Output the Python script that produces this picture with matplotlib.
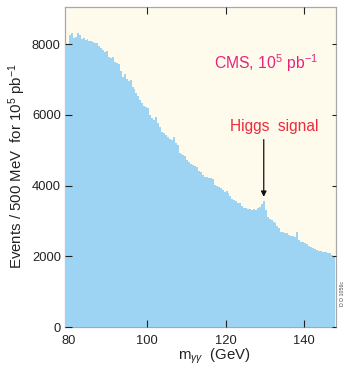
import numpy as np
import matplotlib
matplotlib.use("Agg")
import matplotlib.pyplot as plt

plt.rcParams['font.family'] = ['Liberation Sans', 'DejaVu Sans']
plt.rcParams['mathtext.fontset'] = 'custom'
plt.rcParams['mathtext.rm'] = 'Liberation Sans'
plt.rcParams['mathtext.it'] = 'Liberation Sans:italic'

# histogram: 500 MeV bins from 79 to 148 GeV
bin_start = 79.0
bin_width = 0.5
counts = [
    8020, 8010, 8250, 8310, 8180, 8200, 8320, 8250, 8150, 8170,
    8120, 8140, 8100, 8080, 8070, 8030, 8040, 7960, 7900, 7830,
    7780, 7800, 7650, 7600, 7640, 7500, 7470, 7430, 7250, 7060,
    7150, 7000, 6950, 6980, 6800, 6720, 6620, 6540, 6420, 6330,
    6260, 6230, 6180, 6000, 5920, 5850, 5930, 5780, 5650, 5520,
    5480, 5420, 5370, 5330, 5290, 5360, 5200, 5140, 4920, 4900,
    4860, 4830, 4720, 4680, 4600, 4570, 4540, 4520, 4400, 4380,
    4300, 4240, 4230, 4210, 4200, 4190, 4020, 4000, 3950, 3920,
    3880, 3810, 3850, 3780, 3700, 3620, 3580, 3560, 3520, 3500,
    3420, 3370, 3360, 3350, 3340, 3310, 3330, 3320, 3360, 3400,
    3480, 3560, 3320, 3120, 3060, 3020, 2980, 2950, 2850, 2800,
    2690, 2680, 2660, 2650, 2600, 2580, 2560, 2540, 2680, 2450,
    2400, 2390, 2380, 2360, 2300, 2260, 2230, 2200, 2180, 2160,
    2150, 2120, 2110, 2130, 2090, 2080, 2040, 1980,
]
x_ticks = [80, 100, 120, 140]
y_ticks = [0, 2000, 4000, 6000, 8000]
higgs_mass = 129.75
arrow_from = 5300
arrow_to = 3680

edges = bin_start + bin_width * np.arange(len(counts) + 1)

fig = plt.figure(figsize=(3.51, 3.71), dpi=100)
ax = fig.add_axes([65/351, 1 - 327/371, 271/351, 320/371])
ax.set_facecolor('#FEFBEC')

ax.stairs(counts, edges, fill=True, color='#9DD3F3', baseline=0, zorder=1)

ax.set_xlim(79.0, 148.2)
ax.set_ylim(0, 9050)
ax.set_xticks(x_ticks)
ax.set_yticks(y_ticks)

for s in ax.spines.values():
    s.set_color('#A8A8A8')
    s.set_linewidth(0.9)
    s.set_zorder(0.5)

ax.tick_params(axis='both', direction='in', length=5, width=0.8,
               colors='#222222', labelsize=9.3, pad=2,
               top=True, right=True)
ax.tick_params(axis='y', pad=3)
for t in ax.yaxis.get_major_ticks():
    t.tick2line.set_marker(matplotlib.lines.TICKLEFT)
    t.tick2line.set_markersize(3)
ax.tick_params(axis='x', pad=6)
first = ax.xaxis.get_major_ticks()[0]
first.tick1line.set_visible(False)
first.tick2line.set_visible(False)

ax.set_ylabel('Events / 500 MeV  for 10$^5$ pb$^{-1}$', fontsize=10.8,
              color='#222222')
ax.yaxis.set_label_coords(-0.137, 0.503)
ax.set_xlabel(r'm$_{\gamma\gamma}$  (GeV)', fontsize=10.8, color='#222222')
ax.xaxis.set_label_coords(0.55, -0.06)

ax.text(0.934, 0.825, 'CMS, 10$^5$ pb$^{-1}$', transform=ax.transAxes,
        ha='right', va='center', fontsize=11.3, color='#E5247C')
ax.text(0.934, 0.628, 'Higgs  signal', transform=ax.transAxes,
        ha='right', va='center', fontsize=11.2, color='#EC2B3E')

ax.annotate('', xy=(higgs_mass, arrow_to), xytext=(higgs_mass, arrow_from),
            arrowprops=dict(arrowstyle='-|>', color='#111111', lw=0.9,
                            mutation_scale=8, shrinkA=0, shrinkB=0))

fig.text(342/351, 1 - 293/371, 'D D 1056c', rotation=90, fontsize=3.8,
         color='#444444', ha='center', va='center')

fig.savefig('out.png', dpi=100)
